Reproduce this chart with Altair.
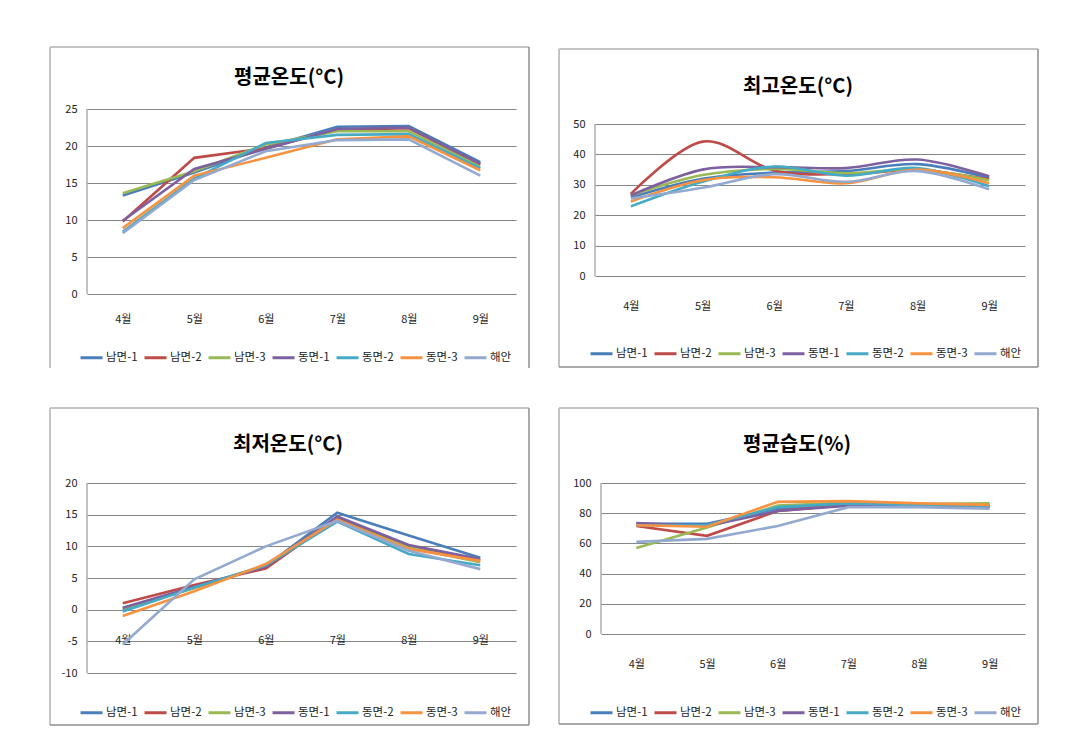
import altair as alt
import pandas as pd

FONT = "Noto Sans CJK KR"

months = ["4월", "5월", "6월", "7월", "8월", "9월"]
series = ["남면-1", "남면-2", "남면-3", "동면-1", "동면-2", "동면-3", "해안"]
colors = ["#4A7EBB", "#BE4B48", "#98B954", "#7D60A0", "#46AAC5", "#F69240", "#93A9CF"]

# 평균온도(°C)
avg_temp = {
    "남면-1": [13.3, 16.4, 19.8, 22.6, 22.7, 17.8],
    "남면-2": [9.8, 18.4, 19.7, 22.2, 22.4, 17.5],
    "남면-3": [13.6, 16.6, 20.2, 22.0, 22.0, 17.2],
    "동면-1": [9.9, 16.9, 19.6, 22.3, 22.5, 17.6],
    "동면-2": [8.4, 15.6, 20.4, 21.5, 21.6, 17.0],
    "동면-3": [8.9, 16.0, 18.4, 20.9, 21.3, 16.7],
    "해안": [8.2, 15.4, 19.3, 20.8, 20.9, 16.0],
}
# 최고온도(°C)
max_temp = {
    "남면-1": [25.8, 32.0, 34.0, 34.5, 36.8, 32.3],
    "남면-2": [27.0, 44.2, 34.7, 33.5, 34.8, 31.8],
    "남면-3": [26.5, 33.2, 35.2, 33.8, 35.0, 31.5],
    "동면-1": [26.5, 35.0, 35.8, 35.5, 38.3, 32.8],
    "동면-2": [22.9, 31.0, 36.0, 33.0, 35.5, 29.5],
    "동면-3": [24.5, 31.5, 32.5, 30.5, 35.0, 30.5],
    "해안": [25.5, 29.0, 33.5, 31.0, 34.5, 28.5],
}
# 최저온도(°C)
min_temp = {
    "남면-1": [0.0, 3.5, 6.9, 15.3, 11.7, 8.2],
    "남면-2": [1.0, 3.9, 6.5, 14.5, 10.0, 7.8],
    "남면-3": [0.2, 3.4, 7.0, 14.2, 9.8, 7.5],
    "동면-1": [0.3, 3.6, 6.8, 14.7, 10.2, 8.0],
    "동면-2": [-0.3, 3.5, 7.0, 13.9, 8.8, 7.0],
    "동면-3": [-1.0, 2.9, 7.2, 14.2, 9.6, 7.7],
    "해안": [-5.5, 4.8, 10.0, 14.0, 9.3, 6.4],
}
# 평균습도(%)
humidity = {
    "남면-1": [73.0, 73.0, 83.0, 86.0, 85.5, 84.5],
    "남면-2": [71.5, 65.0, 81.5, 85.5, 85.5, 84.0],
    "남면-3": [57.0, 70.5, 85.0, 87.0, 86.0, 86.5],
    "동면-1": [73.5, 71.5, 81.5, 85.0, 85.0, 84.5],
    "동면-2": [72.0, 72.0, 84.0, 86.5, 85.5, 85.0],
    "동면-3": [72.0, 71.0, 87.5, 88.0, 86.5, 85.5],
    "해안": [61.0, 63.0, 71.5, 84.0, 84.0, 83.0],
}


def long_df(values):
    rows = []
    for s in series:
        for m, v in zip(months, values[s]):
            rows.append({"series": s, "month": m, "value": v})
    return pd.DataFrame(rows)


one = pd.DataFrame({"a": [0]})
LIGHT = "#c4c4c4"
DARK = "#8e8e8e"
GRID = "#868686"


def panel(title, values, ydom, ystep, scale_top, w, h, frame, title_xy, legend_xy,
          xlab_pad, interp="linear", xoffset=0, bottom_border=True):
    fx0, fx1, fy0, fy1 = frame
    rules = [
        alt.Chart(one).mark_rule(color=LIGHT, strokeWidth=2).encode(
            x=alt.value(fx0), y=alt.value(fy0), y2=alt.value(fy1)),
        alt.Chart(one).mark_rule(color=LIGHT, strokeWidth=2).encode(
            x=alt.value(fx0), x2=alt.value(fx1), y=alt.value(fy0)),
        alt.Chart(one).mark_rule(color=DARK, strokeWidth=1.5).encode(
            x=alt.value(fx1), y=alt.value(fy0), y2=alt.value(fy1)),
    ]
    if bottom_border:
        rules.append(alt.Chart(one).mark_rule(color=DARK, strokeWidth=1.5).encode(
            x=alt.value(fx0), x2=alt.value(fx1), y=alt.value(fy1)))

    ttl = alt.Chart(pd.DataFrame({"t": [title]})).mark_text(
        font=FONT, fontSize=20, fontWeight="bold", color="#000000",
        align="center", baseline="middle",
    ).encode(x=alt.value(title_xy[0]), y=alt.value(title_xy[1]), text="t:N")

    yvals = list(range(ydom[0], ydom[1] + 1, ystep))
    yscale = alt.Scale(domain=[ydom[0], scale_top], nice=False, zero=False)
    yaxis = alt.Axis(title=None, values=yvals, grid=True, gridColor=GRID,
                     gridWidth=1, domain=False, ticks=False, labelPadding=10,
                     labelFont=FONT, labelFontSize=11, labelColor="#222222",
                     labelOverlap=False, labelExpr="'' + datum.value")

    lines = alt.Chart(long_df(values)).mark_line(
        strokeWidth=2.6, interpolate=interp
    ).encode(
        x=alt.X("month:O", sort=months,
                scale=alt.Scale(type="point", padding=0.5),
                axis=alt.Axis(title=None, labelAngle=0, ticks=False, domain=False,
                              grid=False, labelPadding=xlab_pad, offset=xoffset,
                              labelFont=FONT, labelFontSize=11, labelColor="#222222")),
        y=alt.Y("value:Q", scale=yscale, axis=yaxis),
        color=alt.Color("series:N", sort=series,
                        scale=alt.Scale(domain=series, range=colors),
                        legend=alt.Legend(orient="none", legendX=legend_xy[0],
                                          legendY=legend_xy[1], direction="horizontal",
                                          title=None, symbolType="stroke",
                                          symbolSize=484, symbolStrokeWidth=3,
                                          labelFont=FONT, labelFontSize=11.5,
                                          labelColor="#222222", labelOffset=2,
                                          columnPadding=0, padding=0)),
    )

    axis_line = alt.Chart(one).mark_rule(color=GRID, strokeWidth=1).encode(
        x=alt.value(0),
        y=alt.YDatum(datum=ydom[1], scale=yscale, axis=yaxis),
        y2=alt.datum(ydom[0]),
    )
    return alt.layer(*rules, ttl, lines, axis_line).properties(width=w, height=h)


p1 = panel("평균온도(°C)", avg_temp, (0, 25), 5, 25, 429, 185,
           (-37, 442, -62, 259), (202, -31), (-8, 236), 19, bottom_border=False)
p2 = panel("최고온도(°C)", max_temp, (0, 50), 10, 50 * 167 / 152, 430, 167,
           (-36, 443, -60, 258), (203, -22), (-6, 232), 24, interp="cardinal")
p3 = panel("최저온도(°C)", min_temp, (-10, 20), 5, 20, 429, 190,
           (-37, 442, -75, 242), (201, -38), (-8, 217), 24, xoffset=-63)
p4 = panel("평균습도(%)", humidity, (0, 100), 20, 100, 424, 151,
           (-42, 437, -75, 241), (196, -38), (-12, 217), 24)

row1 = alt.hconcat(p1, p2, spacing=28).resolve_scale(color="independent").resolve_legend(color="independent")
row2 = alt.hconcat(p3, p4, spacing=28).resolve_scale(color="independent").resolve_legend(color="independent")

chart = alt.vconcat(row1, row2, spacing=38).resolve_scale(
    color="independent").resolve_legend(color="independent").properties(
    padding={"left": 41, "top": 38, "right": 0, "bottom": 0},
    background="white",
).configure_view(stroke=None)

chart.save("out.html", embed_options={"renderer": "svg", "actions": False})
